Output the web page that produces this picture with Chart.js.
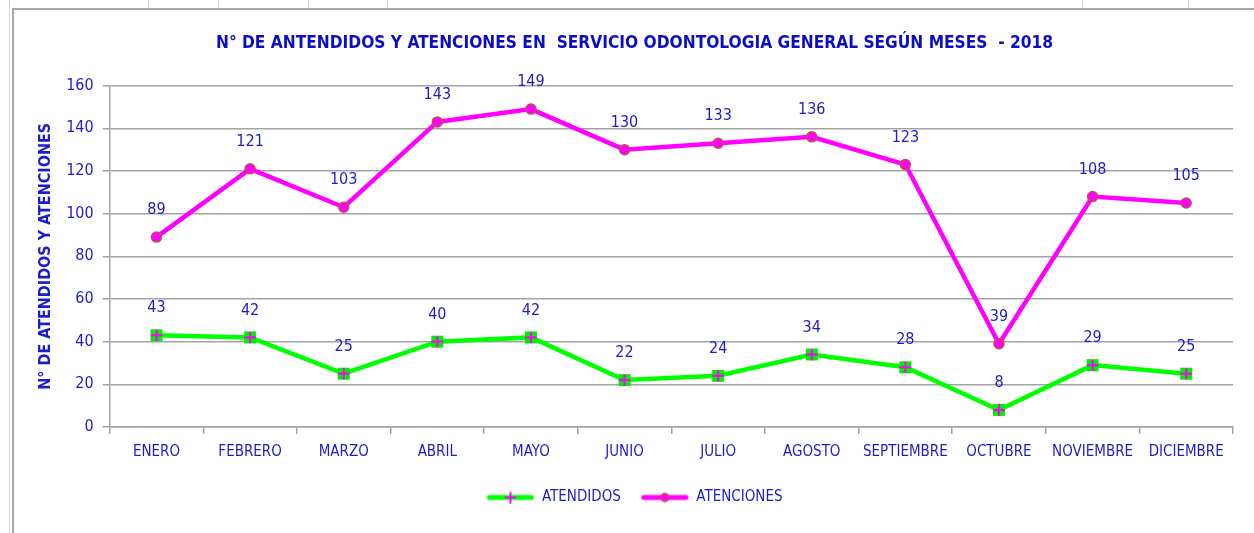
<!DOCTYPE html>
<html>
<head>
<meta charset="utf-8">
<script src="https://cdn.jsdelivr.net/npm/chart.js@4/dist/chart.umd.min.js"></script>
<style>
  html, body { margin: 0; padding: 0; background: #fff; }
  body { width: 1254px; height: 533px; position: relative; overflow: hidden; }
  .cell { position: absolute; top: 0; width: 1px; height: 8px; background: #d4d4d4; }
  #frame {
    position: absolute; left: 12px; top: 8px; width: 1242px; height: 525px;
    border-left: 2px solid #a8a8a8; border-top: 2px solid #a8a8a8; box-sizing: border-box;
  }
  #leftStrip { position: absolute; left: 9px; top: 0; width: 1px; height: 533px; background: #d4d4d4; }
</style>
</head>
<body>
<div id="leftStrip"></div>
<div class="cell" style="left:148px"></div>
<div class="cell" style="left:218px"></div>
<div class="cell" style="left:308px"></div>
<div class="cell" style="left:387px"></div>
<div class="cell" style="left:1082px"></div>
<div class="cell" style="left:1188px"></div>
<div id="frame">
  <canvas id="chart" width="1240" height="523"></canvas>
</div>
<script>
// months on the x axis
const meses = ['ENERO', 'FEBRERO', 'MARZO', 'ABRIL', 'MAYO', 'JUNIO', 'JULIO',
  'AGOSTO', 'SEPTIEMBRE', 'OCTUBRE', 'NOVIEMBRE', 'DICIEMBRE'];
const atendidos = [43, 42, 25, 40, 42, 22, 24, 34, 28, 8, 29, 25];
const atenciones = [89, 121, 103, 143, 149, 130, 133, 136, 123, 39, 108, 105];
const yTicks = [0, 20, 40, 60, 80, 100, 120, 140, 160];

const FONT = '"DejaVu Sans Condensed", "Liberation Sans Narrow", sans-serif';
const BLUE = '#1c1cc8';
const GRID = '#a3a3a3';

// legend sample: short line with the marker in the middle
const legendSample = (lineColor, marker) => {
  const c = document.createElement('canvas');
  c.width = 48; c.height = 12;
  const g = c.getContext('2d');
  g.strokeStyle = lineColor;
  g.lineWidth = 5;
  g.lineCap = 'round';
  g.beginPath(); g.moveTo(3, 6); g.lineTo(45, 6); g.stroke();
  if (marker === 'cross') {
    g.strokeStyle = '#ff00ff';
    g.lineWidth = 2;
    g.beginPath(); g.moveTo(24, 1); g.lineTo(24, 11); g.moveTo(19, 6); g.lineTo(29, 6); g.stroke();
  } else {
    g.fillStyle = '#ff00ff';
    g.strokeStyle = '#c0504d';
    g.lineWidth = 1.5;
    g.beginPath(); g.arc(24, 6, 4, 0, Math.PI * 2); g.fill(); g.stroke();
  }
  return c;
};

// green square with a magenta cross, like the spreadsheet marker
const crossMarker = (() => {
  const c = document.createElement('canvas');
  c.width = 14; c.height = 14;
  const g = c.getContext('2d');
  g.fillStyle = '#00ee00';
  g.fillRect(1, 1, 12, 12);
  g.strokeStyle = '#ff00ff';
  g.lineWidth = 2;
  g.beginPath(); g.moveTo(7, 1); g.lineTo(7, 13); g.moveTo(1, 7); g.lineTo(13, 7); g.stroke();
  return c;
})();

const valueLabels = {
  id: 'valueLabels',
  afterDatasetsDraw(chart) {
    const { ctx } = chart;
    ctx.save();
    ctx.font = '16px ' + FONT;
    ctx.fillStyle = BLUE;
    ctx.textAlign = 'center';
    ctx.textBaseline = 'middle';
    chart.data.datasets.forEach((ds, i) => {
      chart.getDatasetMeta(i).data.forEach((pt, j) => {
        ctx.fillText(ds.data[j], pt.x, pt.y - 27);
      });
    });
    ctx.restore();
  }
};

new Chart(document.getElementById('chart'), {
  type: 'line',
  data: {
    labels: meses,
    datasets: [
      {
        label: 'ATENDIDOS',
        data: atendidos,
        borderColor: '#00ff00',
        borderWidth: 4.5,
        pointStyle: crossMarker,
        pointRadius: 6,
        tension: 0
      },
      {
        label: 'ATENCIONES',
        data: atenciones,
        borderColor: '#ff00ff',
        borderWidth: 4.5,
        pointStyle: 'circle',
        pointRadius: 5,
        pointBackgroundColor: '#ff00ff',
        pointBorderColor: '#c0504d',
        pointBorderWidth: 1.5,
        tension: 0
      }
    ]
  },
  options: {
    responsive: false,
    animation: false,
    layout: { padding: { left: 22, right: 21, top: 0, bottom: 18 } },
    plugins: {
      title: {
        display: true,
        text: 'N° DE ANTENDIDOS Y ATENCIONES EN  SERVICIO ODONTOLOGIA GENERAL SEGÚN MESES  - 2018',
        color: '#0d0dc6',
        font: { family: FONT, size: 17.2, weight: 'bold' },
        padding: { top: 23, bottom: 32 }
      },
      legend: {
        position: 'bottom',
        labels: {
          color: BLUE,
          font: { family: FONT, size: 15 },
          usePointStyle: true,
          pointStyleWidth: 48,
          boxHeight: 12,
          padding: 20,
          generateLabels: (chart) => chart.data.datasets.map((ds, i) => ({
            text: ds.label,
            pointStyle: legendSample(ds.borderColor, i === 0 ? 'cross' : 'circle'),
            fontColor: BLUE,
            strokeStyle: 'transparent',
            lineWidth: 0,
            datasetIndex: i
          }))
        }
      },
      tooltip: { enabled: false }
    },
    scales: {
      x: {
        offset: true,
        grid: { offset: true, drawOnChartArea: false, drawTicks: true, tickLength: 7, color: GRID, lineWidth: 1.5 },
        border: { color: GRID, width: 1.5 },
        ticks: { color: BLUE, font: { family: FONT, size: 15 }, padding: 9, maxRotation: 0, autoSkip: false }
      },
      y: {
        min: 0,
        max: 160,
        afterBuildTicks: (axis) => { axis.ticks = yTicks.map(v => ({ value: v })); },
        grid: { color: GRID, lineWidth: 1.5, drawTicks: true, tickLength: 7 },
        border: { color: GRID, width: 1.5 },
        ticks: { color: BLUE, font: { family: FONT, size: 16 }, padding: 9 },
        title: {
          display: true,
          text: 'N° DE ATENDIDOS Y ATENCIONES',
          color: BLUE,
          font: { family: FONT, size: 16, weight: 'bold' },
          padding: { top: 0, bottom: 2 }
        }
      }
    }
  },
  plugins: [valueLabels]
});
</script>
</body>
</html>
